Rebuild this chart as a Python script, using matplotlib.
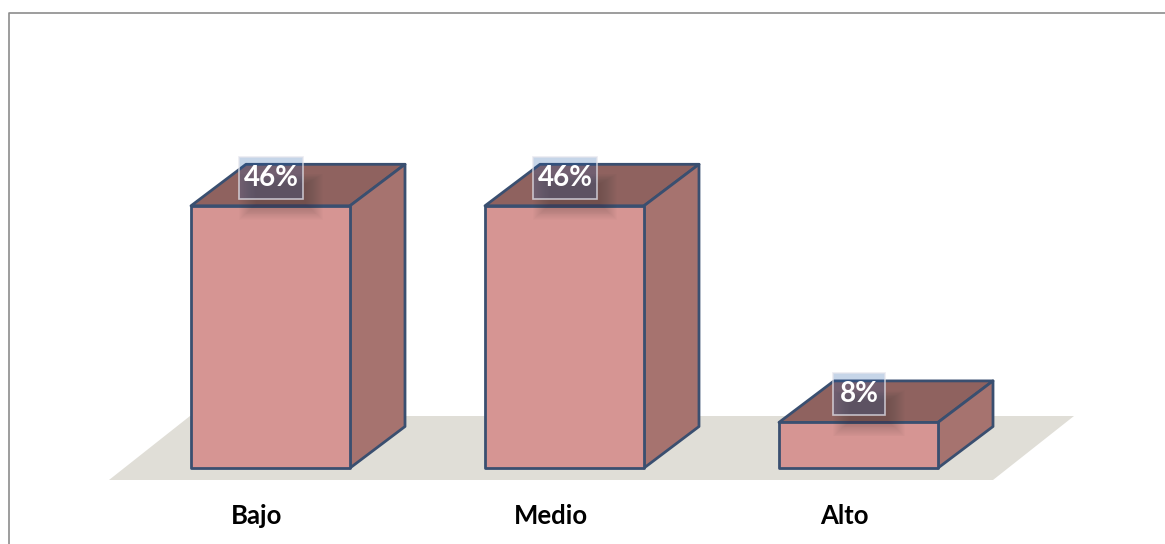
import matplotlib
matplotlib.use("Agg")
import matplotlib.pyplot as plt
from matplotlib.patches import Polygon, Rectangle

categories = ["Bajo", "Medio", "Alto"]
values = [46, 46, 8]
labels = ["46%", "46%", "8%"]

W, H = 1165, 544
PX_X = 294.0      # pixels per category
PX_Y = 5.7        # pixels per percent
X0, Y0 = 270.5, 468.0
BW = 159 / PX_X
DX, DY = 55 / PX_X, 41.5 / PX_Y

plt.rcParams['font.family'] = ['Lato', 'DejaVu Sans']
fig = plt.figure(figsize=(W / 100, H / 100), dpi=100, facecolor='white')
ax = fig.add_axes([0, 0, 1, 1])
ax.set_xlim(-X0 / PX_X, (W - X0) / PX_X)
ax.set_ylim((Y0 - H) / PX_Y, Y0 / PX_Y)
ax.axis('off')

# frame
ax.add_line(plt.Line2D([8.5 / W, 8.5 / W, 1], [0, 1 - 13 / H, 1 - 13 / H],
                       transform=ax.transAxes, color='#8c8c8c', lw=1.2, zorder=1))

# floor
fl, fr = 0 - (270.5 - 109) / PX_X, 2 + (993 - 858.5) / PX_X
fy0, fy1 = -12 / PX_Y, 52 / PX_Y
ax.add_patch(Polygon([(fl, fy0), (fr, fy0), (fr + 81 / PX_X, fy1), (fl + 81 / PX_X, fy1)],
                     closed=True, fc='#e0ded7', ec='none', zorder=2))

EDGE = '#3a4f70'
for i, v in enumerate(values):
    l, r = i - BW / 2, i + BW / 2
    ax.add_patch(Polygon([(l, v), (r, v), (r + DX, v + DY), (l + DX, v + DY)], closed=True,
                         fc='#8f625f', ec=EDGE, lw=2.0, joinstyle='round', zorder=3))
    ax.add_patch(Polygon([(r, 0), (r + DX, DY), (r + DX, v + DY), (r, v)], closed=True,
                         fc='#a6736f', ec=EDGE, lw=2.0, joinstyle='round', zorder=3))
    ax.add_patch(Polygon([(l, 0), (r, 0), (r, v), (l, v)], closed=True,
                         fc='#d69593', ec=EDGE, lw=2.0, joinstyle='round', zorder=4))

    # label box geometry, relative to the bar; width follows the label length
    box_px = 28 + 12 * len(labels[i])
    bw = box_px / PX_X
    bl = i + 0.5 / PX_X - bw / 2
    bb = v + 7 / PX_Y
    bh = 42 / PX_Y
    # soft shadow below the label, fading outwards
    for k in range(18):
        g = k * 1.0
        ax.add_patch(Rectangle((bl + (0 + g) / PX_X, v - (14 - g * 0.9) / PX_Y),
                               bw + (20 - 2 * g) / PX_X, (14 - g * 0.9 + 32 - g * 0.6) / PX_Y,
                               fc='#3a2a2a', ec='none', alpha=0.016, zorder=5))
    ax.add_patch(Rectangle((bl, bb), bw, bh, fc='#1f58a4', ec='none', alpha=0.25, zorder=6))
    ax.add_patch(Rectangle((bl, bb), bw, bh, fc='none', ec='#e4e4ec', lw=1.2, alpha=0.75, zorder=7))
    ax.text(bl + bw / 2, bb + bh / 2, labels[i], color='white', fontsize=20,
            fontweight='bold', ha='center', va='center', zorder=8)
    ax.text(i - 14 / PX_X, -47.5 / PX_Y, categories[i], color='black', fontsize=18.5,
            fontweight='bold', ha='center', va='center', zorder=8)

fig.savefig('out.png', dpi=100, facecolor='white')
